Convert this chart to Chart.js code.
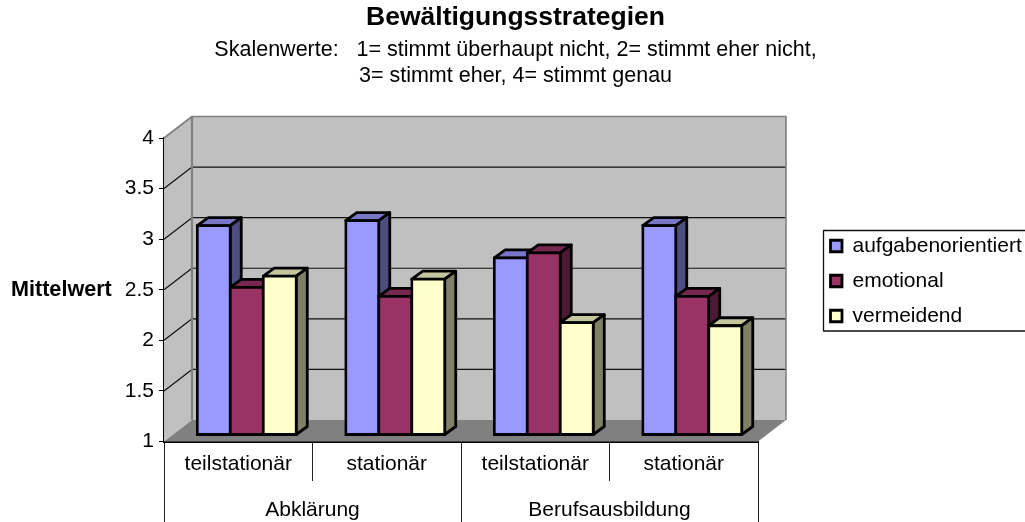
<!DOCTYPE html>
<html><head><meta charset="utf-8">
<style>html,body{margin:0;padding:0;background:#fff;overflow:hidden}canvas{display:block}</style>
<script src="https://cdn.jsdelivr.net/npm/chart.js@4"></script>
</head><body><canvas id="c" width="1025" height="522"></canvas>
<script>
const categories = ['teilstationär','stationär','teilstationär','stationär'];
const groups = ['Abklärung','Berufsausbildung'];
const aufgabenorientiert = [3.07,3.12,2.75,3.07];
const emotional = [2.46,2.37,2.80,2.37];
const vermeidend = [2.57,2.54,2.11,2.08];
const titleText = 'Bewältigungsstrategien';
const subtitleLines = ['Skalenwerte:   1= stimmt überhaupt nicht, 2= stimmt eher nicht,','3= stimmt eher, 4= stimmt genau'];
const yTitle = 'Mittelwert';
const FONT = '"Liberation Sans", Arial, sans-serif';

const WALL = {dx:28, dy:-21.5};
const BAR_SHIFT = {dx:8.5, dy:-6.5};
const BAR_DEPTH = {dx:11, dy:-8};
const EDGE = 2.8;

function poly(ctx, pts, fill, stroke, lw){
  ctx.beginPath();
  pts.forEach((p,i)=> i?ctx.lineTo(p[0],p[1]):ctx.moveTo(p[0],p[1]));
  ctx.closePath();
  if(fill){ctx.fillStyle=fill;ctx.fill();}
  if(stroke){ctx.strokeStyle=stroke;ctx.lineWidth=lw;ctx.lineJoin='round';ctx.stroke();}
}
const scene = {
  id:'scene',
  afterLayout(chart){
    const l = chart.legend;
    const w = l.width;
    l.left = 816.5; l.right = l.left + w; l.top = 221.5; l.height = 200; l.bottom = l.top + 200;
    l.adjustHitBoxes();
    chart.boxes.forEach(b=>{
      if(b.options && b.options.text!==undefined){ b.left = 0; b.right = 1031; }
    });
  },
  beforeDraw(chart){
    const c = chart.ctx;
    poly(c,[[823.5,230.5],[1030,230.5],[1030,331],[823.5,331]],'#fff','#111',1.3);
    c.save();
    c.font = 'bold 21.6px '+FONT; c.fillStyle='#000'; c.textBaseline='middle'; c.textAlign='left';
    c.fillText(yTitle,11,290);
    c.restore();
  },
  beforeDatasetsDraw(chart){
    const c = chart.ctx, a = chart.chartArea, y = chart.scales.y, d = WALL;
    const L=a.left,R=a.right,T=a.top,B=a.bottom;
    poly(c,[[L,T],[L+d.dx,T+d.dy],[L+d.dx,B+d.dy],[L,B]],'#c0c0c0');
    poly(c,[[L+d.dx,T+d.dy],[R+d.dx,T+d.dy],[R+d.dx,B+d.dy],[L+d.dx,B+d.dy]],'#c0c0c0');
    c.lineWidth=1.2; c.strokeStyle='#111';
    y.ticks.forEach(t=>{
      if(t.value<=y.min||t.value>=y.max) return;
      const p=y.getPixelForValue(t.value);
      c.beginPath();c.moveTo(L,p);c.lineTo(L+d.dx,p+d.dy);c.lineTo(R+d.dx,p+d.dy);c.stroke();
    });
    c.strokeStyle='#808080'; c.lineWidth=1.6;
    c.beginPath();c.moveTo(L,T);c.lineTo(L+d.dx,T+d.dy);c.lineTo(R+d.dx,T+d.dy);c.lineTo(R+d.dx,B+d.dy);c.stroke();
    c.lineWidth=2.2;
    c.beginPath();c.moveTo(L+d.dx,T+d.dy);c.lineTo(L+d.dx,B+d.dy);c.stroke();
    poly(c,[[L,B],[L+d.dx,B+d.dy],[R+d.dx,B+d.dy],[R,B]],'#808080');
    // paint the series left to right so each bar overlaps its left neighbour
    const D=BAR_DEPTH;
    chart.data.datasets.forEach((ds,i)=>{
      const meta=chart.getDatasetMeta(i);
      c.save();
      c.translate(BAR_SHIFT.dx,BAR_SHIFT.dy);
      meta.data.forEach(el=>{
        const p=el.getProps(['x','y','base','width'],true);
        const x0=p.x-p.width/2,x1=p.x+p.width/2;
        poly(c,[[x0,p.y],[x0+D.dx,p.y+D.dy],[x1+D.dx,p.y+D.dy],[x1,p.y]],ds.topColor,'#000',EDGE);
        poly(c,[[x1,p.y],[x1+D.dx,p.y+D.dy],[x1+D.dx,p.base+D.dy],[x1,p.base]],ds.sideColor,'#000',EDGE);
      });
      meta.controller.draw();
      c.restore();
    });
    return false;
  }
};

new Chart(document.getElementById('c'),{
  type:'bar',
  data:{labels:categories,datasets:[
    {label:'aufgabenorientiert',data:aufgabenorientiert,backgroundColor:'#9999ff',topColor:'#7777c6',sideColor:'#4d4d80'},
    {label:'emotional',data:emotional,backgroundColor:'#993366',topColor:'#772850',sideColor:'#4d1a33'},
    {label:'vermeidend',data:vermeidend,backgroundColor:'#ffffcc',topColor:'#c6c69e',sideColor:'#808066'}
  ]},
  plugins:[scene],
  options:{
    responsive:false,animation:false,
    layout:{padding:{left:0,right:267,top:0,bottom:0}},
    datasets:{bar:{categoryPercentage:0.6667,barPercentage:1,borderColor:'#000',borderWidth:EDGE,borderSkipped:false,inflateAmount:EDGE/2,clip:false,base:1}},
    scales:{
      y:{min:1,max:4,position:'left',
        ticks:{stepSize:0.5,padding:5,color:'#000',font:{family:FONT,size:21},callback:v=>String(v)},
        grid:{drawOnChartArea:false,tickLength:5,color:'#000',tickColor:'#000'},
        border:{color:'#000',width:1.5},
        afterFit(s){s.width=164;}},
      x:{type:'category',position:'bottom',weight:0,offset:true,
        ticks:{autoSkip:false,maxRotation:0,padding:-29,color:'#000',font:{family:FONT,size:21}},
        grid:{drawOnChartArea:false,offset:true,tickLength:39.5,tickColor:'#222',tickWidth:1,color:'#222'},
        border:{color:'#000',width:2},
        afterFit(s){s.height=39.5;}},
      x2:{type:'category',labels:groups,position:'bottom',weight:1,offset:true,
        ticks:{autoSkip:false,maxRotation:0,padding:-24,color:'#000',font:{family:FONT,size:21}},
        grid:{drawOnChartArea:false,offset:true,tickLength:41,tickColor:'#222',tickWidth:1,color:'#222'},
        border:{display:false},
        afterFit(s){s.height=41;}}
    },
    plugins:{
      title:{display:true,text:titleText,color:'#000',font:{family:FONT,size:26.5,weight:'bold'},padding:{top:2,bottom:3.2}},
      subtitle:{display:true,text:subtitleLines,color:'#000',font:{family:FONT,size:21.5,lineHeight:'26px'},padding:{top:0,bottom:49}},
      legend:{display:true,position:'chartArea',align:'start',
        labels:{boxWidth:11.5,boxHeight:11.5,padding:14,color:'#000',font:{family:FONT,size:21}}},
      tooltip:{enabled:false}
    }
  }
});
</script></body></html>
